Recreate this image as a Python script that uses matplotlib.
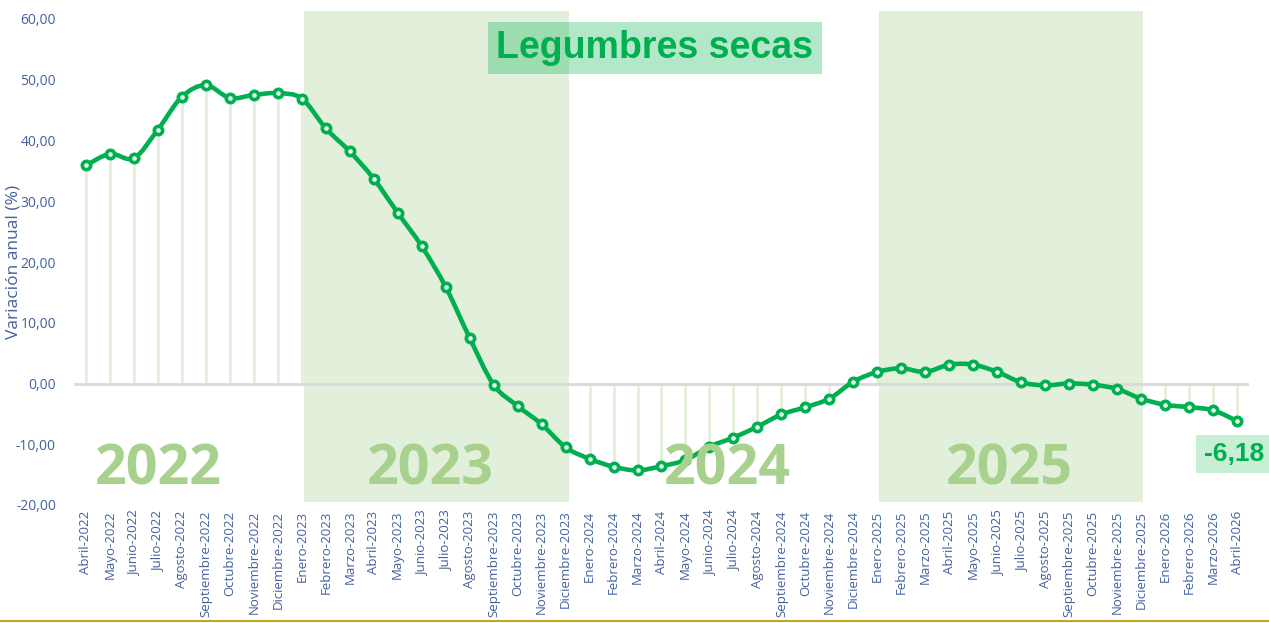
import numpy as np
import matplotlib.pyplot as plt
from matplotlib.path import Path
from matplotlib.patches import PathPatch
from matplotlib.lines import Line2D

# months shown on the x axis
meses = ["Abril", "Mayo", "Junio", "Julio", "Agosto", "Septiembre", "Octubre",
         "Noviembre", "Diciembre", "Enero", "Febrero", "Marzo"]
labels = []
for i in range(49):
    m = meses[i % 12]
    year = 2022 + (i + 3) // 12
    labels.append(f"{m}-{year}")

# annual variation (%)
values = [35.9, 37.8, 37.1, 41.8, 47.2, 49.1, 47.0, 47.5, 47.8,
          46.9, 42.0, 38.2, 33.7, 28.1, 22.6, 15.9, 7.5, -0.2, -3.7, -6.7, -10.5,
          -12.4, -13.7, -14.3, -13.6, -12.6, -10.4, -8.9, -7.1, -5.1, -3.9, -2.5, 0.3,
          1.9, 2.5, 1.9, 3.1, 3.1, 1.9, 0.2, -0.3, 0.0, -0.2, -0.9, -2.5,
          -3.5, -3.9, -4.4, -6.18]

years = ["2022", "2023", "2024", "2025"]
year_x = [3.0, 14.35, 26.73, 38.5]
shaded = [(9.1, 20.15), (33.05, 44.1)]

green = "#00B050"
blue = "#44619D"
pale = "#E2EFDA"

fig = plt.figure(figsize=(12.69, 6.23), dpi=100)
ax = fig.add_axes([74 / 1269, 1 - 505 / 623, 1175 / 1269, 486 / 623])

x = np.arange(len(values))
y = np.array(values)

for a, b in shaded:
    ax.axvspan(a, b, ymin=0.006, ymax=1.0165, color=pale, lw=0, zorder=0, clip_on=False)

# drop lines
ax.vlines(x, 0, y, color=pale, lw=2, zorder=1)
ax.axhline(0, color="#D9D9D9", lw=2, zorder=1)

# smoothed line (catmull-rom -> bezier)
verts = [(x[0], y[0])]
codes = [Path.MOVETO]
pts = np.column_stack([x, y])
n = len(pts)
for i in range(n - 1):
    p0 = pts[max(i - 1, 0)]
    p1 = pts[i]
    p2 = pts[i + 1]
    p3 = pts[min(i + 2, n - 1)]
    c1 = p1 + (p2 - p0) / 6
    c2 = p2 - (p3 - p1) / 6
    verts += [tuple(c1), tuple(c2), tuple(p2)]
    codes += [Path.CURVE4] * 3
ax.add_patch(PathPatch(Path(verts, codes), fill=False, edgecolor=green, lw=3.3,
                       zorder=3, capstyle="round", joinstyle="round"))
ax.plot(x, y, ls="none", marker="o", ms=6, mfc="#E8F7EE", mec=green, mew=2.6, zorder=4)

for t, xx in zip(years, year_x):
    ax.text(xx, -14.3, t, ha="center", va="center", fontsize=40, fontweight="bold",
            color="#A9D18E", family="Open Sans", zorder=5)

ax.set_xlim(-0.5, 48.5)
ax.set_ylim(-20, 60)
ax.set_yticks(np.arange(-20, 61, 10))
ax.set_yticklabels([f"{v:.2f}".replace(".", ",") for v in np.arange(-20, 61, 10)],
                   color=blue, fontsize=10, family="Open Sans")
ax.set_xticks(x)
ax.set_xticklabels(labels, rotation=90, color=blue, fontsize=9.5, family="Open Sans")
ax.tick_params(length=0, pad=4)
ax.tick_params(axis="y", pad=13)
for s in ax.spines.values():
    s.set_visible(False)
ax.set_ylabel("Variación anual (%)", color=blue, fontsize=12.5, family="Open Sans")
ax.yaxis.set_label_coords(-0.0445, 0.5)

fig.text(655 / 1269, 1 - 48 / 623, "Legumbres secas", ha="center", va="center",
         fontsize=27, fontweight="bold", color=green, family="Liberation Sans",
         bbox=dict(boxstyle="square,pad=0.22", fc="#00B050", alpha=0.3, ec="none"))
fig.text(1234 / 1269, 1 - 454 / 623, "-6,18", ha="center", va="center",
         fontsize=19, fontweight="bold", color=green, family="Liberation Sans",
         bbox=dict(boxstyle="square,pad=0.28", fc="#C6EFD6", ec="none"))

fig.add_artist(Line2D([0, 1], [0.003, 0.003], color="#C9A227", lw=1.5, transform=fig.transFigure))

fig.savefig("out.png", dpi=100)
